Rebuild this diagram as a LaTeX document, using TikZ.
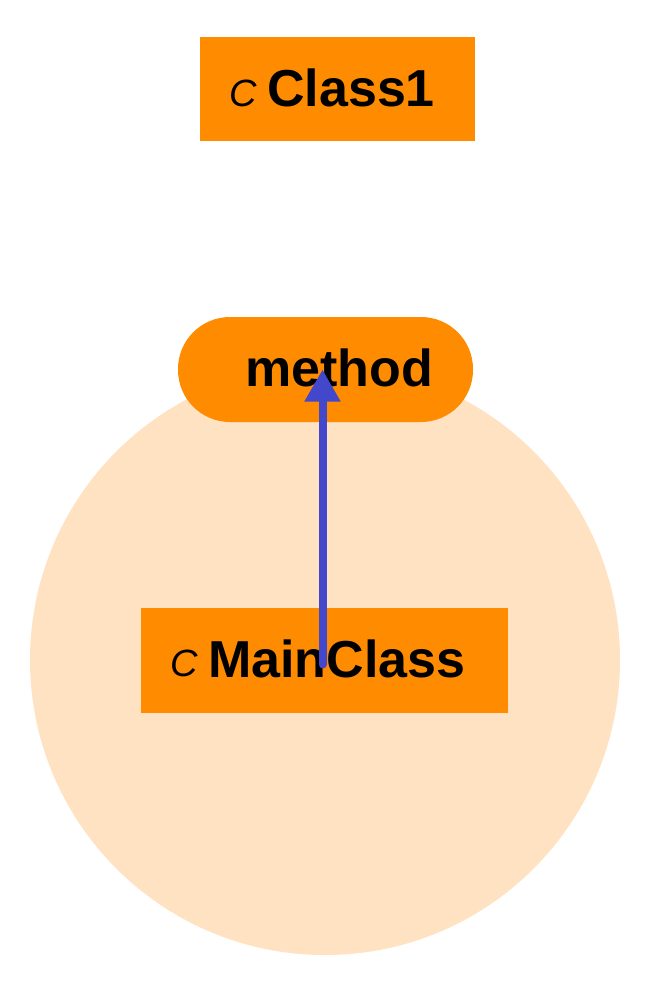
\documentclass[tikz,border=0pt]{standalone}
\usepackage{fontspec}
\setmainfont{Liberation Sans}
\usetikzlibrary{arrows.meta}
\definecolor{orng}{RGB}{255,140,0}
\definecolor{peach}{RGB}{255,226,194}
\definecolor{arrblue}{RGB}{66,71,204}
\tikzset{
  box/.style={fill=orng, draw=none, inner sep=0pt},
  ctag/.style={anchor=base west, inner sep=0pt, font=\fontsize{38}{42}\selectfont\itshape},
  lbl/.style={anchor=base west, inner sep=0pt, font=\fontsize{52}{57}\selectfont\bfseries},
  conn/.style={draw=arrblue, line width=8pt, line cap=round, -{Triangle[length=32pt,width=34pt]}}
}
\begin{document}
\begin{tikzpicture}[x=1pt,y=-1pt]
\useasboundingbox (0,0) rectangle (645,985);
\fill[white] (0,0) rectangle (645,985);
% group circle
\fill[peach] (325,660) circle (295);
% Class1
\node[box, minimum width=275pt, minimum height=104pt] (class1) at (337.5,89) {};
\node[ctag] (c1tag) at (229,106) {C};
\node[lbl] (c1lbl) at (267,106) {Class1};
% method
\node[box, minimum width=295pt, minimum height=105pt, rounded corners=52pt] (method) at (325.5,369.5) {};
\node[lbl] (mlbl) at (245,386) {method};
% MainClass
\node[box, minimum width=367pt, minimum height=105pt] (main) at (324.5,660.5) {};
\node[ctag] (mtag) at (170,676) {C};
\node[lbl] (mainlbl) at (208,677) {MainClass};
% connector
\draw[conn] ([xshift=-2pt,yshift=-4pt]main.center) -- ([xshift=-3pt]method.center);
\end{tikzpicture}
\end{document}
